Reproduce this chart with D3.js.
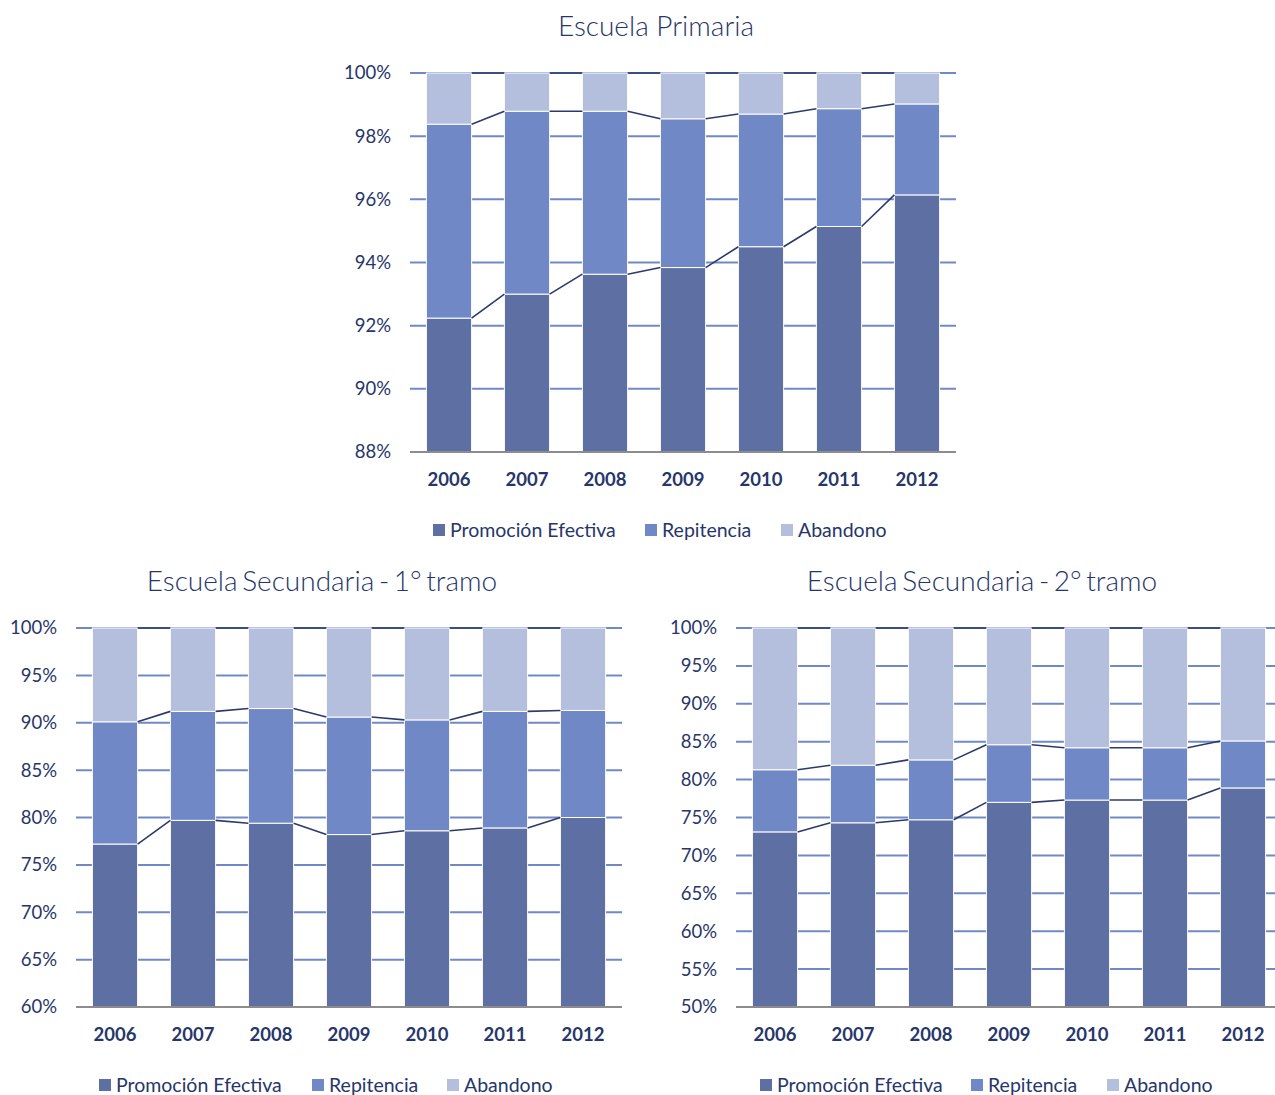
<!DOCTYPE html>
<html><head><meta charset="utf-8">
<script src="https://cdn.jsdelivr.net/npm/d3@7"></script>
<style>body{margin:0;background:#fff}svg{display:block}</style>
</head><body>
<svg id="c" width="1275" height="1095"></svg>
<script>
const years = ["2006","2007","2008","2009","2010","2011","2012"];
const seriesNames = ["Promoción Efectiva","Repitencia","Abandono"];
// Escuela Primaria (%)
const primPromo = [92.24, 93.0, 93.63, 93.84, 94.5, 95.14, 96.14];
const primRepit = [6.14, 5.79, 5.16, 4.71, 4.2, 3.73, 2.88];
const primAband = [1.62, 1.21, 1.21, 1.45, 1.3, 1.13, 0.98];
// Secundaria 1° tramo
const sec1Promo = [77.2, 79.7, 79.4, 78.2, 78.6, 78.9, 80.0];
const sec1Repit = [12.9, 11.5, 12.1, 12.4, 11.7, 12.3, 11.3];
const sec1Aband = [9.9, 8.8, 8.5, 9.4, 9.7, 8.8, 8.7];
// Secundaria 2° tramo
const sec2Promo = [73.1, 74.3, 74.7, 77.0, 77.3, 77.3, 78.9];
const sec2Repit = [8.2, 7.6, 7.9, 7.6, 6.9, 6.9, 6.2];
const sec2Aband = [18.7, 18.1, 17.4, 15.4, 15.8, 15.8, 14.9];
const primTicks = [88,90,92,94,96,98,100];
const sec1Ticks = [60,65,70,75,80,85,90,95,100];
const sec2Ticks = [50,55,60,65,70,75,80,85,90,95,100];

const colors = ["#5E70A3","#7089C6","#B4BEDD"];
const textCol = "#27366A";
const font = "Lato, 'Open Sans', sans-serif";
const svg = d3.select("#c");

function chart(cfg){
  const {title, titleX, titleY, x0, x1, y0, y1, domain, ticks, series, legend, labelX, wordSp} = cfg;
  const g = svg.append("g");
  const x = d3.scaleBand().domain(years).range([x0,x1]).paddingInner(0.42).paddingOuter(0.21);
  const y = d3.scaleLinear().domain(domain).range([y1,y0]);
  const clipW = Math.min(x1,1275);
  g.selectAll(".grid").data(ticks.filter(t=>t!==domain[0])).join("line")
    .attr("x1",x0).attr("x2",clipW).attr("y1",d=>y(d)).attr("y2",d=>y(d))
    .attr("stroke","#7089C6").attr("stroke-width",2);
  g.selectAll(".yl").data(ticks).join("text")
    .attr("x",labelX).attr("y",d=>y(d)).attr("dy","0.35em").attr("text-anchor","end")
    .attr("font-family",font).attr("font-size",18.5).attr("fill",textCol).text(d=>d+"%");
  const rows = years.map((yr,i)=>({yr, a:series[0][i], b:series[1][i], c:series[2][i]}));
  const stack = d3.stack().keys(["a","b","c"])(rows);
  stack.forEach((s,si)=>{
    g.selectAll(".s"+si).data(s).join("rect")
      .attr("x",d=>x(d.data.yr)).attr("width",x.bandwidth())
      .attr("y",d=>y(Math.min(d[1],100))).attr("height",d=>y(Math.max(d[0],domain[0]))-y(Math.min(d[1],100)))
      .attr("fill",colors[si]).attr("stroke","#fff").attr("stroke-width",1);
  });
  stack.forEach((s,si)=>{
    for(let i=0;i<s.length-1;i++){
      g.append("line")
        .attr("x1",x(years[i])+x.bandwidth()).attr("x2",x(years[i+1]))
        .attr("y1",y(Math.min(s[i][1],100))).attr("y2",y(Math.min(s[i+1][1],100)))
        .attr("stroke","#2B3A6B").attr("stroke-width",1.6);
    }
  });
  g.append("line").attr("x1",x0).attr("x2",clipW).attr("y1",y1).attr("y2",y1)
    .attr("stroke","#8c8c8c").attr("stroke-width",2);
  g.selectAll(".xl").data(years).join("text")
    .attr("x",d=>x(d)+x.bandwidth()/2).attr("y",y1+34).attr("text-anchor","middle")
    .attr("font-family",font).attr("font-weight","bold").attr("font-size",18.5).attr("fill",textCol).text(d=>d);
  g.append("text").attr("x",titleX).attr("y",titleY).attr("text-anchor","middle")
    .attr("font-family",font).attr("font-weight",300).attr("font-size",28).attr("fill",textCol)
    .attr("word-spacing",wordSp||0).text(title);
  seriesNames.forEach((n,i)=>{
    g.append("rect").attr("x",legend.xs[i]).attr("y",legend.y-6).attr("width",12).attr("height",12).attr("fill",colors[i]);
    g.append("text").attr("x",legend.xs[i]+17).attr("y",legend.y).attr("dy","0.35em")
      .attr("font-family",font).attr("font-size",19.5).attr("fill",textCol).text(n);
  });
}

chart({title:"Escuela Primaria", titleX:656, titleY:36, x0:410, x1:956, y0:73, y1:452,
  domain:[88,100], ticks:primTicks, series:[primPromo,primRepit,primAband], labelX:391,
  legend:{y:530, xs:[433,645,781]}});
chart({title:"Escuela Secundaria - 1° tramo", titleX:322, titleY:591, x0:76, x1:622, y0:628, y1:1007,
  domain:[60,100], ticks:sec1Ticks, series:[sec1Promo,sec1Repit,sec1Aband], labelX:57, wordSp:-3,
  legend:{y:1085, xs:[99,312,447]}});
chart({title:"Escuela Secundaria - 2° tramo", titleX:982, titleY:591, x0:736, x1:1282, y0:628, y1:1007,
  domain:[50,100], ticks:sec2Ticks, series:[sec2Promo,sec2Repit,sec2Aband], labelX:717, wordSp:-3,
  legend:{y:1085, xs:[760,971,1107]}});
</script>
</body></html>
